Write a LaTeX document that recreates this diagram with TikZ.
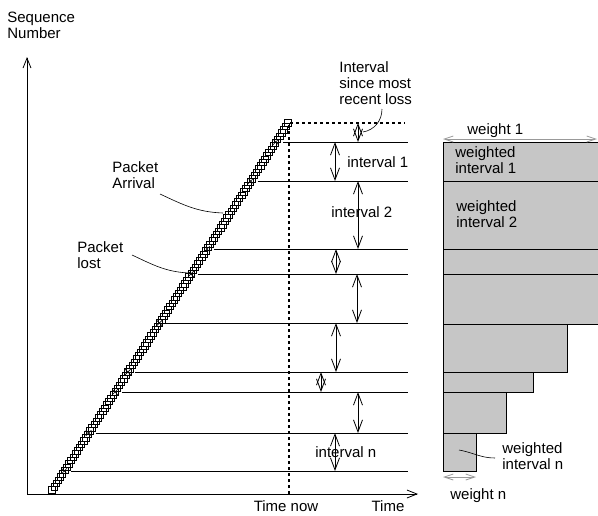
\documentclass[tikz,border=0pt]{standalone}
\usepackage{fontspec}
\setmainfont{Liberation Sans}
\usetikzlibrary{arrows.meta,shapes.misc,calc}
\definecolor{blockgray}{RGB}{198,198,198}
\tikzset{
  lbl/.style={inner sep=0pt,align=left,font=\fontsize{15}{16}\selectfont},
  pkt/.style={draw,rectangle,minimum size=6.5pt,inner sep=0pt,line width=0.6pt},
  lossmark/.style={draw,cross out,minimum size=5pt,inner sep=0pt,line width=0.6pt},
  intspan/.style={{Straight Barb[length=12pt,width=9pt]}-{Straight Barb[length=12pt,width=9pt]}},
  axisarrow/.style={-{Straight Barb[length=10pt,width=8pt]}},
  weightarrow/.style={draw=gray!80,{Straight Barb[length=9pt,width=6pt]}-{Straight Barb[length=9pt,width=6pt]}},
  block/.style={draw,fill=blockgray},
  nowline/.style={line width=1.2pt,dash pattern=on 3pt off 3pt},
}
\begin{document}
\begin{tikzpicture}[x=1pt,y=-1pt,line width=0.8pt]
  \useasboundingbox (0,0) rectangle (598,515);
  % axes
  \coordinate (origin) at (27,494);
  \coordinate (ytip) at (27,57);
  \coordinate (xtip) at (418,494);
  \draw[axisarrow] (origin) -- (ytip);
  \draw[axisarrow] (origin) -- (xtip);
  \node[lbl,anchor=north west] (seq) at (7,12) {Sequence\\Number};
  \node[lbl] (time) at (388,506) {Time};
  \node[lbl] (now) at (286,506) {Time now};
  % time now
  \coordinate (nowtop) at (289,123);
  \coordinate (nowbot) at (289,494);
  \coordinate (dashend) at (405,123);
  \draw[nowline] (nowbot) -- (nowtop) -- (dashend);
  % packets
  \coordinate (first) at (52,490);
  \coordinate (last) at (288,123);
  \foreach \k in {0,...,112}
    \node[pkt] at ($(first)!\k/112!(last)$) {};
  % losses
  \foreach \y [count=\i] in {142,181,249,274,323,372,392,433,471} {
    \pgfmathsetmacro\dx{52+0.643*(490-\y)}
    \node[lossmark] (loss\i) at (\dx,\y) {};
    \coordinate (end\i) at (408,\y);
    \draw ([xshift=7pt]loss\i.center) -- (end\i);
  }
  % intervals
  \foreach \x/\a/\b in {358/123/142,335/142/181,358/181/249,336/249/274,357/274/323,
                        336/323/372,321/372/392,358/392/433,335/433/471}
    \draw[intspan] (\x,\a) -- (\x,\b);
  \node[lbl,anchor=west] (int1) at (347,162) {interval 1};
  \node[lbl,anchor=west] (int2) at (331,212) {interval 2};
  \node[lbl,anchor=west] (intn) at (315,452) {interval n};
  % labels with leaders
  \node[lbl,anchor=north west] (recent) at (339,61) {Interval\\since most\\recent loss};
  \coordinate (recentfoot) at (382,109);
  \coordinate (recentpt) at (363,132);
  \draw[line width=0.6pt] (recentfoot) to[out=-90,in=10] (recentpt);
  \node[lbl,anchor=north west] (arrival) at (112,161) {Packet\\Arrival};
  \coordinate (arrivalfoot) at (160,194);
  \coordinate (arrivalpt) at (223,213);
  \draw[line width=0.6pt] (arrivalfoot) to[out=-25,in=178] (arrivalpt);
  \node[lbl,anchor=north west] (lost) at (77,241) {Packet\\lost};
  \coordinate (lostfoot) at (132,255);
  \coordinate (lostpt) at (190,273);
  \draw[line width=0.6pt] (lostfoot) to[out=-25,in=178] (lostpt);
  % weighted blocks
  \foreach \r/\a/\b in {600/142/181,600/181/249,600/249/274,600/274/324,
                        567/324/372,533/372/392,506/392/433,476/433/471}
    \draw[block] (443,\a) rectangle (\r,\b);
  \coordinate (w1left) at (443,139);
  \coordinate (w1right) at (597,139);
  \draw[weightarrow] (w1left) -- (w1right);
  \node[lbl,anchor=west] (w1) at (467,131) {weight 1};
  \coordinate (wnleft) at (443,477);
  \coordinate (wnright) at (476,477);
  \draw[weightarrow] (wnleft) -- (wnright);
  \node[lbl,anchor=west] (wn) at (450,496) {weight n};
  \node[lbl,anchor=north west] (wi1) at (455,146) {weighted\\interval 1};
  \node[lbl,anchor=north west] (wi2) at (456,200) {weighted\\interval 2};
  \node[lbl,anchor=north west] (win) at (502,442) {weighted\\interval n};
  \coordinate (winfoot) at (495,458);
  \coordinate (winpt) at (459,450);
  \draw[line width=0.6pt] (winpt) to[out=-10,in=180] (winfoot);
\end{tikzpicture}
\end{document}
